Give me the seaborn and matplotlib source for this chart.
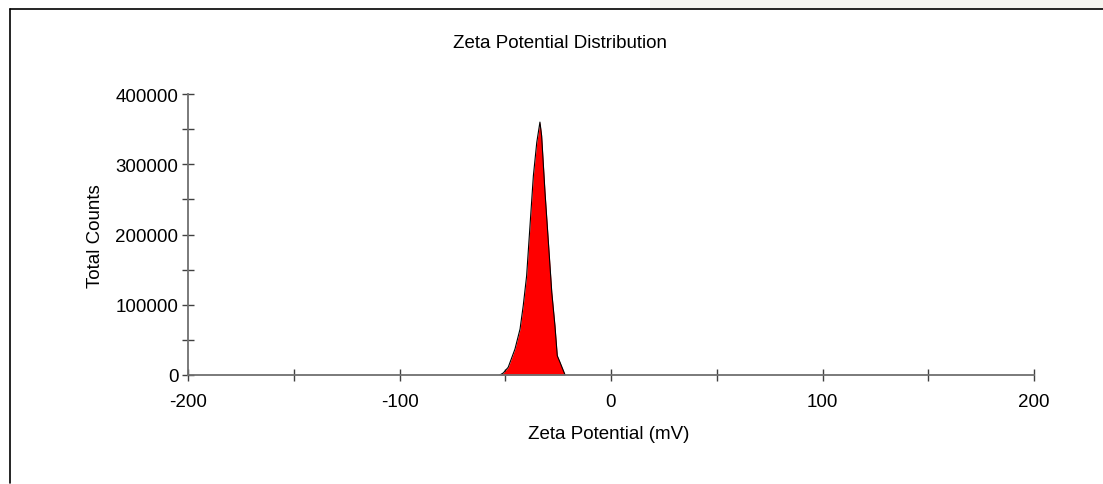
import matplotlib
matplotlib.use("Agg")
import matplotlib.pyplot as plt
import seaborn as sns
import pandas as pd
from matplotlib.lines import Line2D
from matplotlib.patches import Rectangle
from matplotlib.ticker import MultipleLocator, FuncFormatter

# ---- data ----
zeta_mv = [-52.5, -50.9, -48.6, -45.4, -43.0, -41.5, -39.9, -38.3, -36.7, -35.1,
           -33.6, -32.8, -31.2, -29.6, -28.0, -26.5, -25.4, -24.1, -21.7]
total_counts = [0, 3000, 11000, 37000, 65500, 98600, 141000, 212500, 283700, 331000,
                360000, 340600, 260000, 189000, 117700, 70200, 27500, 18000, 0]
x_ticks = [-200, -100, 0, 100, 200]
y_ticks = [0, 100000, 200000, 300000, 400000]
title = "Zeta Potential Distribution"
x_label = "Zeta Potential (mV)"
y_label = "Total Counts"

df = pd.DataFrame({"zeta": zeta_mv, "counts": total_counts})

sns.set_theme(style="white")
plt.rcParams["font.family"] = ["Liberation Sans", "DejaVu Sans"]
plt.rcParams["axes.unicode_minus"] = False

W, H = 1103, 485
fig = plt.figure(figsize=(W / 100, H / 100), dpi=100)
fig.patch.set_facecolor("white")

# axes placed in pixel coordinates
x0, x1, ytop, ybot = 188, 1034, 95, 376
ax = fig.add_axes([x0 / W, (H - ybot) / H, (x1 - x0) / W, (ybot - ytop) / H])
ax.set_facecolor("white")

ax.fill_between(df["zeta"], df["counts"], 0, color="#ff0000", lw=0, zorder=2)
sns.lineplot(data=df, x="zeta", y="counts", ax=ax, color="black", lw=0.8,
             sort=False, zorder=3)

ax.set_xlim(x_ticks[0], x_ticks[-1])
ax.set_ylim(y_ticks[0], y_ticks[-1])
ax.xaxis.set_major_locator(MultipleLocator(50))
ax.yaxis.set_major_locator(MultipleLocator(50000))
ax.xaxis.set_major_formatter(FuncFormatter(lambda v, p: f"{int(v)}" if int(round(v)) in x_ticks else ""))
ax.yaxis.set_major_formatter(FuncFormatter(lambda v, p: f"{int(v)}" if int(round(v)) in y_ticks else ""))

for s in ["top", "right"]:
    ax.spines[s].set_visible(False)
for s in ["left", "bottom"]:
    ax.spines[s].set_color("#707070")
    ax.spines[s].set_linewidth(1.3)
    ax.spines[s].set_zorder(4)

ax.tick_params(axis="both", which="major", bottom=True, left=True, top=False, right=False,
               direction="inout", length=8, width=1.0, color="#404040",
               labelsize=13.5, labelcolor="black")
ax.tick_params(axis="x", pad=9)
ax.tick_params(axis="y", pad=3)
ax.set_xlabel("")
ax.set_ylabel("")

fig.text(560 / W, 1 - 43 / H, title, ha="center", va="center", fontsize=13.5, color="black")
fig.text(609 / W, 1 - 435 / H, x_label, ha="center", va="center", fontsize=13.5, color="black")
fig.text(95 / W, 1 - 236 / H, y_label, ha="center", va="center", rotation=90,
         fontsize=13.5, color="black")

# outer frame and the faint strip at the top right
fig.add_artist(Rectangle((650 / W, 1 - 10 / H), 1 - 650 / W, 10 / H,
                         transform=fig.transFigure, facecolor="#f5f5f0", edgecolor="none"))
fig.add_artist(Line2D([10 / W, 1], [1 - 10 / H, 1 - 10 / H], transform=fig.transFigure,
                      color="black", lw=1.2))
fig.add_artist(Line2D([10 / W, 10 / W], [1 - 10 / H, 1 / H], transform=fig.transFigure,
                      color="black", lw=1.2))

fig.savefig("out.png", dpi=100, facecolor="white")
